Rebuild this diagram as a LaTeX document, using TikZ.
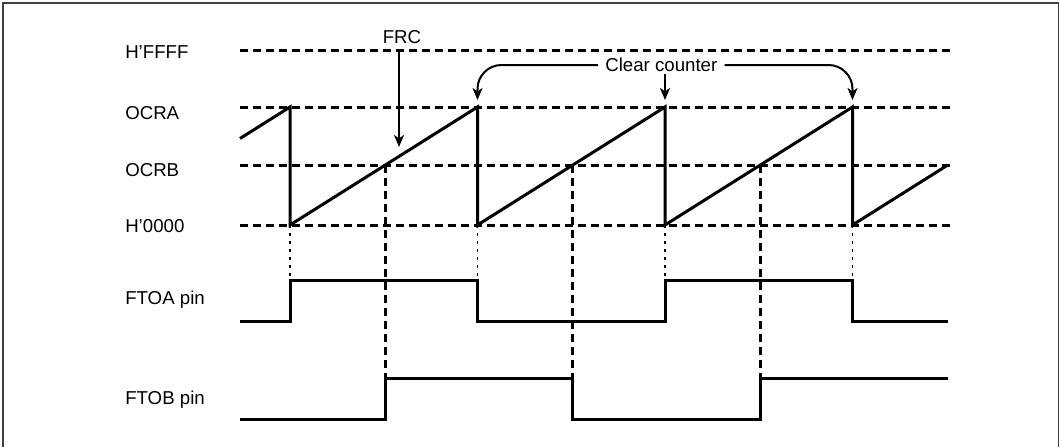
\documentclass[tikz,border=0pt]{standalone}
\usepackage{fontspec}
\setmainfont{Liberation Sans}
\usetikzlibrary{arrows.meta}
\begin{document}
\begin{tikzpicture}[x=0.75pt,y=-0.75pt,
  grid/.style={line width=2.25pt, dash pattern=on 6pt off 3.75pt},
  wave/.style={line width=2.25pt},
  guide/.style={line width=1pt, dash pattern=on 2.25pt off 3.75pt},
  lbl/.style={anchor=base west, inner sep=0pt, font=\fontsize{14}{16}\selectfont},
  ptr/.style={line width=1.5pt, -{Stealth[length=9pt,width=7.5pt,inset=2.5pt]}},
  frame/.style={draw=black!75, line width=0.8pt}]
\useasboundingbox (0,0) rectangle (1060,447);
\draw[frame] (3,447) -- (3,3) -- (1058.5,3) -- (1058.5,447);
% levels
\coordinate (ffffL) at (240,50);   \coordinate (ffffR) at (952,50);
\coordinate (ocraL) at (240,107);  \coordinate (ocraR) at (952,107);
\coordinate (ocrbL) at (240,165);  \coordinate (ocrbR) at (952,165);
\coordinate (zeroL) at (240,225);  \coordinate (zeroR) at (952,225);
\draw[grid] (ffffL) -- (ffffR);
\draw[grid] (ocraL) -- (ocraR);
\draw[grid] (ocrbL) -- (ocrbR);
\draw[grid] (zeroL) -- (zeroR);
% labels
\node[lbl] (lffff) at (125,58) {H’FFFF};
\node[lbl] (locra) at (125,119) {OCRA};
\node[lbl] (locrb) at (125,176) {OCRB};
\node[lbl] (lzero) at (125,232) {H’0000};
\node[lbl] (lftoa) at (125,304) {FTOA pin};
\node[lbl] (lftob) at (125,404) {FTOB pin};
% compare-match B guides (dashed)
\foreach \x in {385.3,572.8,760.3}
  \draw[grid] (\x,165) -- (\x,378.3);
% clear guides (dotted)
\foreach \x in {290,477.5,665,852.5}
  \draw[guide] (\x,225) -- (\x,280.7);
% counter sawtooth
\draw[wave] (240,138.5) -- (290,107) -- (290,225) -- (477.5,107) -- (477.5,225)
  -- (665,107) -- (665,225) -- (852.5,107) -- (852.5,225) -- (947.8,165);
% FTOA
\draw[wave] (240,321.7) -- (290,321.7) -- (290,280.7) -- (477.5,280.7) -- (477.5,321.7)
  -- (665,321.7) -- (665,280.7) -- (852.5,280.7) -- (852.5,321.7) -- (948,321.7);
% FTOB
\draw[wave] (240,419.3) -- (385.3,419.3) -- (385.3,378.3) -- (572.8,378.3) -- (572.8,419.3)
  -- (760.3,419.3) -- (760.3,378.3) -- (948,378.3);
% FRC arrow
\node[lbl, anchor=base] (frc) at (402,43) {FRC};
\coordinate (frcS) at (399,50);
\coordinate (frcT) at (399,147);
\draw[ptr] (frcS) -- (frcT);
% clear counter
\node[lbl, inner xsep=5.25pt] (cc) at (598,71.7) {Clear counter};
\coordinate (c1) at (477.5,100);
\coordinate (c2) at (665,100);
\coordinate (c3) at (852.5,100);
\coordinate (c2s) at (665,74);
\draw[ptr, rounded corners=18pt] (cc.west |- 0,65) -| (c1);
\draw[ptr] (c2s) -- (c2);
\draw[ptr, rounded corners=18pt] (cc.east |- 0,65) -| (c3);
\end{tikzpicture}
\end{document}
